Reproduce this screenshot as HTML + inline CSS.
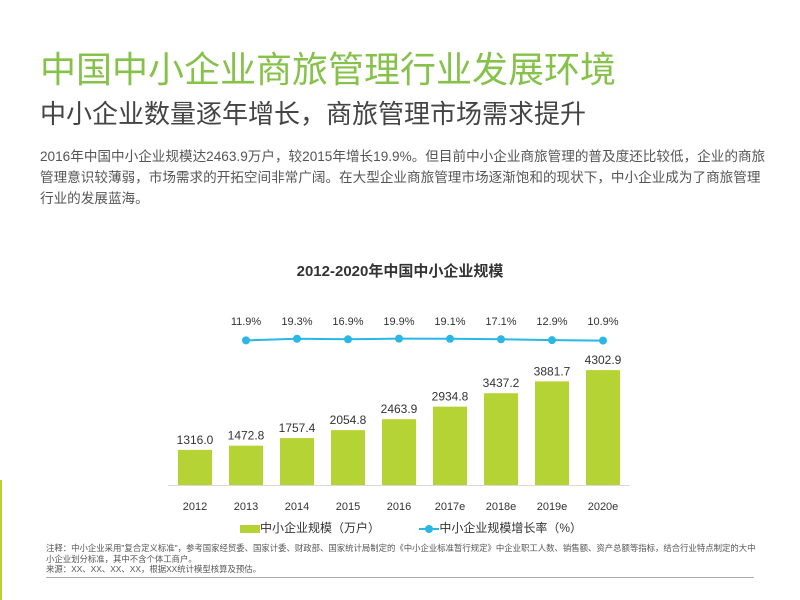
<!DOCTYPE html>
<html><head><meta charset="utf-8"><style>
body{margin:0;width:800px;height:600px;background:#fff;position:relative;overflow:hidden;font-family:"Liberation Sans","Noto Sans CJK SC",sans-serif}
.a{position:absolute;white-space:nowrap}
</style></head><body>
<div class="a" style="left:0;top:480px;width:2px;height:120px;background:#b5d334"></div>
<div class="a" style="left:40px;top:48px;font-size:36px;line-height:44px;color:#86c24a">中国中小企业商旅管理行业发展环境</div>
<div class="a" style="left:40px;top:97px;font-size:26px;line-height:34px;color:#444">中小企业数量逐年增长，商旅管理市场需求提升</div>
<div class="a" style="left:40px;top:146px;width:732px;white-space:normal;font-size:13.6px;line-height:21px;color:#555">2016年中国中小企业规模达2463.9万户，较2015年增长19.9%。但目前中小企业商旅管理的普及度还比较低，企业的商旅管理意识较薄弱，市场需求的开拓空间非常广阔。在大型企业商旅管理市场逐渐饱和的现状下，中小企业成为了商旅管理行业的发展蓝海。</div>
<div class="a" style="left:0;width:800px;text-align:center;top:260px;font-size:15px;font-weight:bold;color:#333">2012-2020年中国中小企业规模</div>
<svg class="a" style="left:0;top:0" width="800" height="600">
<g id="g"></g>
<line x1="168" y1="485.5" x2="630" y2="485.5" stroke="#d9d9d9"/>
</svg>
<div class="a" style="left:240px;top:519px;font-size:12px;color:#333">
<span><span style="display:inline-block;width:20px;height:8px;background:#b5d334;vertical-align:middle"></span>中小企业规模（万户）</span>
<span style="margin-left:36px"><span style="display:inline-block;position:relative;width:20px;height:8px;vertical-align:middle"><span style="position:absolute;left:0;top:3px;width:20px;height:2px;background:#2ab7e6"></span><span style="position:absolute;left:6px;top:0;width:8px;height:8px;border-radius:4px;background:#2ab7e6"></span></span>中小企业规模增长率（%）</span>
</div>
<div class="a" style="left:46px;top:543px;width:712px;white-space:normal;font-size:8.4px;line-height:10.5px;color:#555">注释：中小企业采用"复合定义标准"，参考国家经贸委、国家计委、财政部、国家统计局制定的《中小企业标准暂行规定》中企业职工人数、销售额、资产总额等指标，结合行业特点制定的大中小企业划分标准，其中不含个体工商户。<br>来源：XX、XX、XX、XX，根据XX统计模型核算及预估。</div>
<div class="a" style="left:46px;top:577px;width:708px;height:1px;background:#aaa"></div>
<script>
const years=["2012","2013","2014","2015","2016","2017e","2018e","2019e","2020e"];
const scale=[1316.0,1472.8,1757.4,2054.8,2463.9,2934.8,3437.2,3881.7,4302.9];
const growth=[null,11.9,19.3,16.9,19.9,19.1,17.1,12.9,10.9];
const NS="http://www.w3.org/2000/svg",g=document.getElementById('g');
const x=i=>195+i*51,y=v=>485-v*0.0267,yg=v=>343-v*0.22;
function mk(t,a,txt){const e=document.createElementNS(NS,t);for(const k in a)e.setAttribute(k,a[k]);if(txt)e.textContent=txt;g.appendChild(e);return e;}
scale.forEach((v,i)=>{
const r=mk('rect',{x:x(i)-17,y:y(v),width:34,height:485-y(v),fill:'#b5d334'});


const t=mk('text',{x:x(i),y:y(v)-6,'text-anchor':'middle','font-size':12,fill:'#333'},v.toFixed(1));


const l=mk('text',{x:x(i),y:510,'text-anchor':'middle','font-size':11,fill:'#333'},years[i]);


});
let d='';growth.forEach((v,i)=>{if(v!=null)d+=(d?'L':'M')+x(i)+','+yg(v);});
const p=mk('path',{d:d,stroke:'#2ab7e6','stroke-width':2,fill:'none'});


growth.forEach((v,i)=>{if(v==null)return;
const c=mk('circle',{cx:x(i),cy:yg(v),r:4,fill:'#2ab7e6'});


const t=mk('text',{x:x(i),y:325,'text-anchor':'middle','font-size':11,fill:'#333'},v.toFixed(1)+'%');


});
</script>
</body></html>
